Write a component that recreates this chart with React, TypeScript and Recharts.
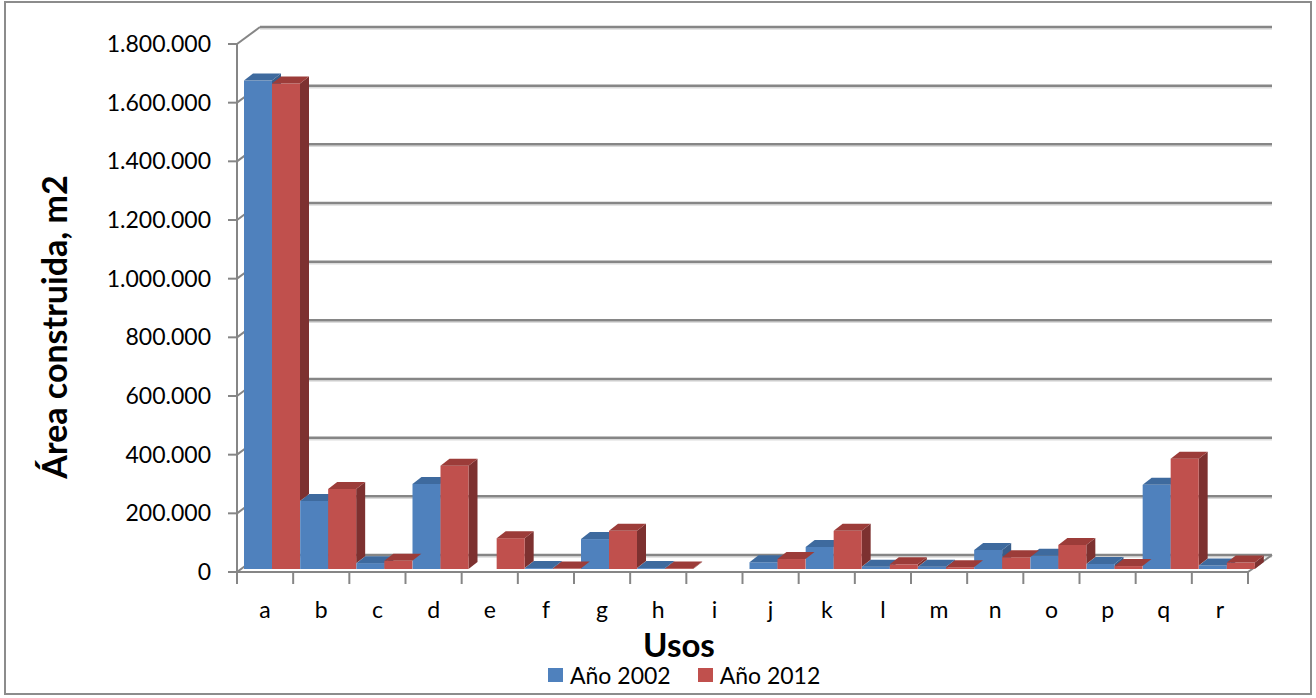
import React from 'react';
import { BarChart, Bar, XAxis, YAxis, CartesianGrid, Label } from 'recharts';

// usos (categories) and built area in m2 for each year
const usos = ['a', 'b', 'c', 'd', 'e', 'f', 'g', 'h', 'i', 'j', 'k', 'l', 'm', 'n', 'o', 'p', 'q', 'r'];
const area2002 = [1665000, 232000, 20000, 290000, 0, 3000, 102000, 3000, 0, 23000, 75000, 8000, 8000, 65000, 45000, 17000, 287000, 12000];
const area2012 = [1655000, 273000, 28000, 352000, 105000, 1500, 130000, 2000, 0, 34000, 130000, 16000, 6000, 40000, 82000, 10000, 376000, 22000];
const yTicks = [0, 200000, 400000, 600000, 800000, 1000000, 1200000, 1400000, 1600000, 1800000];

const series = [
  { key: 'y2002', name: 'Año 2002', front: '#4F81BD', top: '#3E6A9E', side: '#385D8A' },
  { key: 'y2012', name: 'Año 2012', front: '#C0504D', top: '#9C3C39', side: '#7D3130' },
];

const data = usos.map((uso, i) => ({ uso, y2002: area2002[i], y2012: area2012[i] }));

const W = 1316;
const H = 698;
const Y_AXIS_W = 80;
const X_AXIS_H = 40;
const MARGIN = { top: 44, right: 68, bottom: 126 - X_AXIS_H, left: 237 - Y_AXIS_W };
const PLOT_BOTTOM = 572;
const BAND = (W - 237 - MARGIN.right) / usos.length;
const FONT = "Lato, 'Open Sans', sans-serif";
const AXIS = '#868686';

// back wall offset, bar depth position and bar thickness
const WX = 23, WY = -17;
const DX = 7, DY = -3;
const SX = 9, SY = -7;

const fmt = (v: number) => String(v).replace(/\B(?=(\d{3})+(?!\d))/g, '.');

function WallLine(props: any) {
  const { x1, y1, x2 } = props;
  const isFloor = Math.abs(y1 - PLOT_BOTTOM) < 1;
  return (
    <g>
      <line x1={x1 + WX} y1={y1 + WY + 2} x2={x2 + WX + 1} y2={y1 + WY + 2} stroke="#dcdcdc" strokeWidth={1.5} />
      <line x1={x1 + WX} y1={y1 + WY} x2={x2 + WX + 1} y2={y1 + WY} stroke={AXIS} strokeWidth={2.5} />
      <line x1={x1} y1={y1} x2={x1 + WX} y2={y1 + WY} stroke={AXIS} strokeWidth={2} />
      {isFloor && <line x1={x2} y1={y1} x2={x2 + WX + 1} y2={y1 + WY} stroke={AXIS} strokeWidth={2} />}
    </g>
  );
}

function makeShape(s: typeof series[number], nextKey?: string) {
  return (props: any) => {
    const { x, y, width, height, payload, index } = props;
    const v = payload[s.key];
    if (!v) return <g />;
    const fx = x + DX;
    const fy = y + DY;
    const base = fy + height;
    const r = fx + width;
    // the next category's front bar hides the lower part of this side face
    let sideBottom = base;
    if (nextKey) {
      const nv = data[index + 1] ? data[index + 1][nextKey as 'y2002'] : 0;
      if (nv > 0) sideBottom = base - nv * (height / v);
    }
    const top = `${fx},${fy} ${r},${fy} ${r + SX},${fy + SY} ${fx + SX},${fy + SY}`;
    const side = sideBottom > fy
      ? `${r},${fy} ${r + SX},${fy + SY} ${r + SX},${sideBottom + SY} ${r},${sideBottom}`
      : null;
    return (
      <g>
        {side && <polygon points={side} fill={s.side} />}
        <rect x={fx} y={fy} width={width} height={height} fill={s.front} />
        <polygon points={top} fill={s.top} />
      </g>
    );
  };
}

function CategoryTick(props: any) {
  const { x, payload, index } = props;
  const half = BAND / 2;
  return (
    <g>
      <line x1={x - half} y1={PLOT_BOTTOM} x2={x - half} y2={PLOT_BOTTOM + 12} stroke={AXIS} strokeWidth={2} />
      {index === usos.length - 1 && (
        <line x1={x + half} y1={PLOT_BOTTOM} x2={x + half} y2={PLOT_BOTTOM + 12} stroke={AXIS} strokeWidth={2} />
      )}
      <text x={x} y={618} textAnchor="middle" fontSize={23} fill="#000" fontFamily={FONT}>
        {payload.value}
      </text>
    </g>
  );
}

function LegendBox() {
  return (
    <div
      style={{
        position: 'absolute', left: 548, top: 661, display: 'flex', alignItems: 'center',
        fontFamily: FONT, fontSize: 23, color: '#000', lineHeight: '28px',
      }}
    >
      {series.map((s, i) => (
        <div key={s.key} style={{ display: 'flex', alignItems: 'center', marginLeft: i ? 27 : 0 }}>
          <span style={{ display: 'inline-block', width: 15, height: 14, background: s.front, marginRight: 7 }} />
          <span>{s.name}</span>
        </div>
      ))}
    </div>
  );
}

export default function App() {
  return (
    <div style={{ position: 'absolute', left: 0, top: 0, width: W, height: H, background: '#fff' }}>
      <div
        style={{
          position: 'absolute', left: 4, top: 1, width: 1308, height: 694,
          border: '2px solid #8c8c8c', boxSizing: 'border-box',
        }}
      />
      <BarChart
        width={W}
        height={H}
        data={data}
        margin={MARGIN}
        barCategoryGap={0}
        barGap={0}
        style={{ position: 'absolute', left: 0, top: 0 }}
      >
        <CartesianGrid vertical={false} horizontal={WallLine} />
        <XAxis
          dataKey="uso"
          height={X_AXIS_H}
          interval={0}
          tickLine={false}
          axisLine={{ stroke: AXIS, strokeWidth: 2 }}
          tick={CategoryTick}
        >
          <Label
            content={() => (
              <text x={679} y={657} textAnchor="middle" fontSize={33} fontWeight="bold" fill="#000" fontFamily={FONT}>
                Usos
              </text>
            )}
          />
        </XAxis>
        <YAxis
          width={Y_AXIS_W}
          domain={[0, 1800000]}
          ticks={yTicks}
          interval={0}
          tickSize={9}
          tickMargin={17}
          tickFormatter={fmt}
          tickLine={{ stroke: AXIS, strokeWidth: 2 }}
          axisLine={{ stroke: AXIS, strokeWidth: 2 }}
          tick={{ fontSize: 23, fill: '#000', fontFamily: FONT }}
        >
          <Label
            content={() => (
              <text
                x={53}
                y={327}
                transform="rotate(-90, 53, 327)"
                textAnchor="middle"
                dominantBaseline="central"
                fontSize={34}
                fontWeight="bold"
                fill="#000"
                fontFamily={FONT}
              >
                Área construida, m2
              </text>
            )}
          />
        </YAxis>
        <Bar dataKey="y2002" name="Año 2002" fill={series[0].front} isAnimationActive={false} shape={makeShape(series[0])} />
        <Bar dataKey="y2012" name="Año 2012" fill={series[1].front} isAnimationActive={false} shape={makeShape(series[1], 'y2002')} />
      </BarChart>
      <LegendBox />
    </div>
  );
}
